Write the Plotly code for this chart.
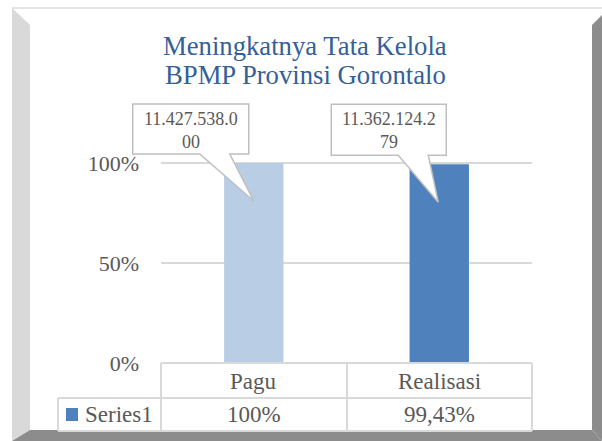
import plotly.graph_objects as go

# data
categories = ['Pagu', 'Realisasi']
pct_values = [1.0, 0.9943]
rupiah_values = [11427538000, 11362124279]
series_name = 'Series1'
y_ticks = [0, 0.5, 1.0]
y_tick_labels = ['0%', '50%', '100%']
title_lines = ['Meningkatnya Tata Kelola', 'BPMP Provinsi Gorontalo']

bar_colors = ['#b9cde5', '#4f81bd']
FONT = 'Liberation Serif, Times New Roman, serif'
GREY_TXT = '#595959'
GRID = '#d9d9d9'

W, H = 602, 441
ML, MR, MT, MB = 161, 70, 95, 78
PW, PH = W - ML - MR, H - MT - MB
Y_MAX = PH / 200


# pixel -> paper helpers (for the frame / table decoration)
def px(x):
    return (x - ML) / PW


def py(y):
    return (H - MB - y) / PH


def fmt_pct(v):
    s = f'{v * 100:.2f}'.rstrip('0').rstrip('.')
    return s.replace('.', ',') + '%'


def fmt_rp(v):
    s = f'{v:,}'.replace(',', '.')
    return s[:12] + '<br>' + s[12:]


fig = go.Figure()

fig.add_trace(
    go.Bar(
        name=series_name,
        x=categories,
        y=pct_values,
        marker=dict(color=bar_colors, line=dict(width=0)),
        showlegend=False,
        hoverinfo='skip',
    )
)

shapes = []
annotations = []

# frame (beveled border like excel)
def poly(points, color):
    d = 'M ' + ' L '.join(f'{px(x):.5f},{py(y):.5f}' for x, y in points) + ' Z'
    return dict(type='path', xref='paper', yref='paper', path=d,
                fillcolor=color, line=dict(width=0), layer='below')

shapes.append(poly([(12, 7), (602, 7), (602, 9), (12, 9)], '#e4e4e4'))
shapes.append(poly([(12, 8), (30, 25), (30, 430), (12, 441)], '#d9d9d9'))
shapes.append(poly([(592, 25), (602, 15), (602, 441), (592, 430)], '#8c8c8c'))
shapes.append(poly([(12, 441), (30, 430), (592, 430), (602, 441)], '#8c8c8c'))

# title
for i, line in enumerate(title_lines):
    annotations.append(dict(
        text=line, xref='paper', yref='paper', x=px(305), y=py(46 + i * 29),
        xanchor='center', yanchor='middle', showarrow=False,
        font=dict(family=FONT, size=26.7, color='#34609a'),
    ))

# callouts (data labels) - domain refs so the box is not clipped by the plot area
callout_paths = [
    'M -121,59 L -5,59 L -5,9 L -24,9 L 0,-38 L -54,9 L -121,9 Z',
    'M -108,60 L 7,60 L 7,9 L -11,9 L -1,-38 L -41,9 L -108,9 Z',
]
callout_shift = [(-63, 33), (-50, 34)]
for i, v in enumerate(pct_values):
    shapes.append(dict(
        type='path', xref='x domain', yref='y domain',
        xsizemode='pixel', ysizemode='pixel',
        xanchor=(i + 0.5) / len(categories), yanchor=v / Y_MAX,
        path=callout_paths[i],
        fillcolor='white', line=dict(color='#bfbfbf', width=1.5), layer='above',
    ))
    annotations.append(dict(
        text=fmt_rp(rupiah_values[i]), xref='x', yref='y', x=i, y=v,
        xshift=callout_shift[i][0], yshift=callout_shift[i][1],
        showarrow=False, align='center',
        font=dict(family=FONT, size=18, color=GREY_TXT),
    ))

# data table
def hline(x0, x1, y):
    return dict(type='line', xref='paper', yref='paper', x0=px(x0), x1=px(x1),
                y0=py(y), y1=py(y), line=dict(color=GRID, width=2))


def vline(x, y0, y1):
    return dict(type='line', xref='paper', yref='paper', x0=px(x), x1=px(x),
                y0=py(y0), y1=py(y1), line=dict(color=GRID, width=2))

shapes += [
    hline(161, 532, 363), hline(58, 532, 398), hline(58, 532, 431),
    vline(161, 363, 431), vline(347, 363, 431), vline(532, 363, 431),
    vline(58, 398, 431),
]

for i, c in enumerate(categories):
    annotations.append(dict(
        text=c, xref='x', yref='paper', x=i, y=py(381), showarrow=False,
        xanchor='center', yanchor='middle',
        font=dict(family=FONT, size=23, color=GREY_TXT),
    ))
    annotations.append(dict(
        text=fmt_pct(pct_values[i]), xref='x', yref='paper', x=i, y=py(414),
        showarrow=False, xanchor='center', yanchor='middle',
        font=dict(family=FONT, size=23, color=GREY_TXT),
    ))

# legend key + series name in table
shapes.append(dict(type='rect', xref='paper', yref='paper',
                   x0=px(66), x1=px(78), y0=py(421), y1=py(408),
                   fillcolor=bar_colors[1], line=dict(width=0)))
annotations.append(dict(
    text=series_name, xref='paper', yref='paper', x=px(83), y=py(414),
    xanchor='left', yanchor='middle', showarrow=False,
    font=dict(family=FONT, size=23, color=GREY_TXT),
))

fig.update_layout(
    width=W, height=H,
    margin=dict(l=ML, r=MR, t=MT, b=MB),
    paper_bgcolor='white', plot_bgcolor='white',
    bargap=0.68,
    shapes=shapes,
    annotations=annotations,
    xaxis=dict(range=[-0.5, len(categories) - 0.5], showticklabels=False,
               showgrid=False, zeroline=False, showline=False, ticks=''),
    yaxis=dict(range=[0, Y_MAX], tickvals=y_ticks, ticktext=y_tick_labels,
               showgrid=True, gridcolor=GRID, gridwidth=2, zeroline=False,
               showline=False, ticks='', ticklabelstandoff=21,
               tickfont=dict(family=FONT, size=22, color=GREY_TXT)),
    showlegend=False,
)

# page body has a default 8px margin, drop it so the figure fills the window
fig.write_html("out.html", config={'displayModeBar': False},
               post_script="document.body.style.margin='0';")
